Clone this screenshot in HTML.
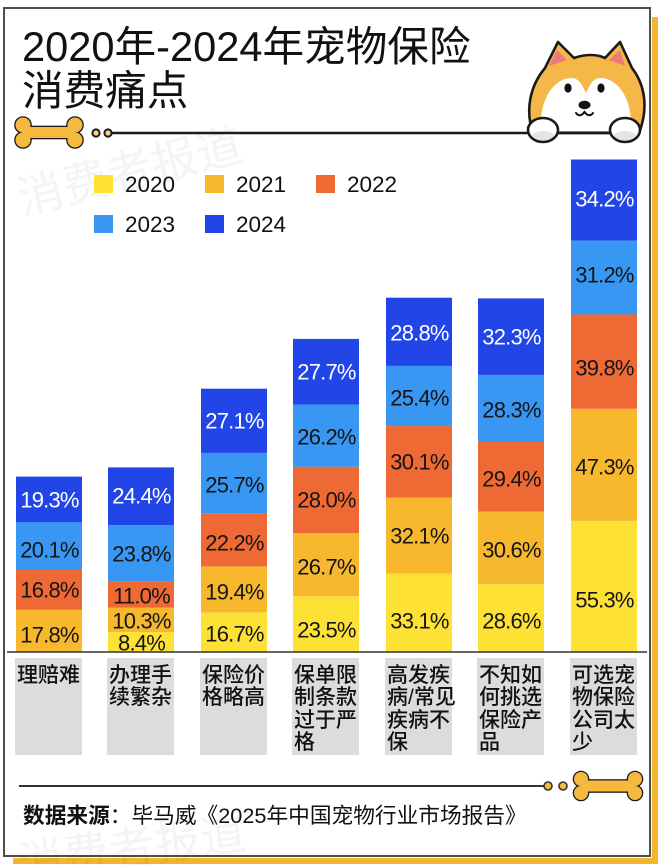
<!DOCTYPE html>
<html>
<head>
<meta charset="utf-8">
<style>
html,body{margin:0;padding:0;}
body{width:660px;height:865px;position:relative;background:#fff;overflow:hidden;font-family:"Liberation Sans","Noto Sans CJK SC",sans-serif;}
.shadow{position:absolute;left:13px;top:17px;width:645px;height:847px;background:#f2b52f;}
.card{position:absolute;left:3px;top:7px;width:644px;height:846px;border:2px solid #4d4d4d;background:#fff;outline:1.5px solid #fff;}
svg{position:absolute;left:0;top:0;}
.title{position:absolute;left:22px;top:25px;font-size:41.6px;line-height:44px;color:#111;font-family:"Liberation Sans","Noto Sans CJK SC",sans-serif;white-space:nowrap;}
.cat{position:absolute;top:658px;width:65px;height:97px;background:#dcdcdc;padding-left:2px;box-sizing:content-box;}
.cat div{font-size:21px;line-height:22.5px;color:#111;padding-top:6.5px;font-weight:500;font-family:"Liberation Sans","Noto Sans CJK SC",sans-serif;white-space:nowrap;}
.foot{position:absolute;left:23px;top:804px;font-size:21.7px;line-height:24px;color:#111;white-space:nowrap;font-family:"Liberation Sans","Noto Sans CJK SC",sans-serif;}
.foot b{font-weight:bold;}
</style>
</head>
<body>
<div class="shadow"></div>
<div class="card"></div>

<svg width="660" height="865" viewBox="0 0 660 865" xmlns="http://www.w3.org/2000/svg">
  <!-- watermarks -->
  <g font-family="Noto Sans CJK SC, sans-serif" fill="#000" opacity="0.045">
    <text x="22" y="215" font-size="46" transform="rotate(-14 22 215)">消费者报道</text>
    <text x="20" y="880" font-size="46" transform="rotate(-8 20 880)">消费者报道</text>
  </g>

  <!-- top bone -->
  <g>
    <g fill="#f6b940" stroke="#1a1a1a" stroke-width="2.6">
      <circle cx="23" cy="125" r="7.5"/><circle cx="23" cy="140" r="7.5"/>
      <circle cx="75" cy="125" r="7.5"/><circle cx="75" cy="140" r="7.5"/>
      <rect x="23" y="127" width="52" height="11"/>
    </g>
    <g fill="#f6b940">
      <circle cx="23" cy="125" r="7.5"/><circle cx="23" cy="140" r="7.5"/>
      <circle cx="75" cy="125" r="7.5"/><circle cx="75" cy="140" r="7.5"/>
      <rect x="23" y="127" width="52" height="11"/>
    </g>
  </g>
  <circle cx="96" cy="133" r="3.6" fill="#f5d38a" stroke="#1a1a1a" stroke-width="2"/>
  <circle cx="108" cy="133" r="3.6" fill="#f5d38a" stroke="#1a1a1a" stroke-width="2"/>

  <!-- dog head -->
  <path d="M533 133 C525 110 530 86 545 68 L558 42 L574 58 C585 54 597 54 605 58 L620 42 L632 68 C646 86 648 110 639 133 Z" fill="#f5b748" stroke="#1a1a1a" stroke-width="2.6" stroke-linejoin="round"/>
  <path d="M549 66 L557 50 L567 60 Z" fill="#ec7a78"/>
  <path d="M609 60 L620 50 L625 66 Z" fill="#ec7a78"/>
  <path d="M541 131 C539 100 553 79 571 78 C580 78 583 87 586 93 C589 87 592 78 601 78 C619 79 633 100 631 131 Z" fill="#fff"/>
  <ellipse cx="568" cy="88" rx="3.6" ry="4.6" fill="#111"/>
  <ellipse cx="601" cy="88" rx="3.6" ry="4.6" fill="#111"/>
  <ellipse cx="584.5" cy="105" rx="6" ry="4.2" fill="#111"/>
  <path d="M576 113 Q580 118 584.5 112 Q589 118 593 113" fill="none" stroke="#111" stroke-width="2" stroke-linecap="round"/>

  <!-- top line -->
  <line x1="112" y1="133" x2="640" y2="133" stroke="#1a1a1a" stroke-width="2.6"/>

  <!-- paws -->
  <ellipse cx="543" cy="130" rx="15" ry="12" fill="#fff"/>
  <ellipse cx="543" cy="136" rx="11" ry="5" fill="#e4e4e4"/>
  <ellipse cx="543" cy="130" rx="15" ry="12" fill="none" stroke="#1a1a1a" stroke-width="2.6"/>
  <ellipse cx="625" cy="130" rx="15" ry="12" fill="#fff"/>
  <ellipse cx="625" cy="136" rx="11" ry="5" fill="#e4e4e4"/>
  <ellipse cx="625" cy="130" rx="15" ry="12" fill="none" stroke="#1a1a1a" stroke-width="2.6"/>

  <!-- legend -->
  <g font-family="Liberation Sans, sans-serif" font-size="22.5" fill="#111">
    <rect x="94" y="175" width="19" height="18" fill="#fde235"/>
    <text x="125" y="192">2020</text>
    <rect x="205" y="175" width="19" height="18" fill="#f7b82d"/>
    <text x="236" y="192">2021</text>
    <rect x="316" y="175" width="19" height="18" fill="#ef6935"/>
    <text x="347" y="192">2022</text>
    <rect x="94" y="215" width="19" height="18" fill="#3797f3"/>
    <text x="125" y="232">2023</text>
    <rect x="205" y="215" width="19" height="18" fill="#2145e6"/>
    <text x="236" y="232">2024</text>
  </g>

  <!-- bars -->
  <g>
    <rect x="16" y="609.8" width="66" height="42.2" fill="#f7b82d"/>
    <rect x="16" y="570.0" width="66" height="39.8" fill="#ef6935"/>
    <rect x="16" y="522.35" width="66" height="47.65" fill="#3797f3"/>
    <rect x="16" y="476.6" width="66" height="45.75" fill="#2145e6"/>

    <rect x="108" y="632.1" width="66" height="19.9" fill="#fde235"/>
    <rect x="108" y="607.7" width="66" height="24.4" fill="#f7b82d"/>
    <rect x="108" y="581.6" width="66" height="26.1" fill="#ef6935"/>
    <rect x="108" y="525.2" width="66" height="56.4" fill="#3797f3"/>
    <rect x="108" y="467.4" width="66" height="57.8" fill="#2145e6"/>

    <rect x="201" y="612.4" width="66" height="39.6" fill="#fde235"/>
    <rect x="201" y="566.4" width="66" height="46.0" fill="#f7b82d"/>
    <rect x="201" y="513.8" width="66" height="52.6" fill="#ef6935"/>
    <rect x="201" y="452.9" width="66" height="60.9" fill="#3797f3"/>
    <rect x="201" y="388.7" width="66" height="64.2" fill="#2145e6"/>

    <rect x="293" y="596.3" width="66" height="55.7" fill="#fde235"/>
    <rect x="293" y="533.0" width="66" height="63.3" fill="#f7b82d"/>
    <rect x="293" y="466.7" width="66" height="66.3" fill="#ef6935"/>
    <rect x="293" y="404.6" width="66" height="62.1" fill="#3797f3"/>
    <rect x="293" y="338.9" width="66" height="65.7" fill="#2145e6"/>

    <rect x="386" y="573.55" width="66" height="78.45" fill="#fde235"/>
    <rect x="386" y="497.5" width="66" height="76.05" fill="#f7b82d"/>
    <rect x="386" y="426.1" width="66" height="71.4" fill="#ef6935"/>
    <rect x="386" y="365.9" width="66" height="60.2" fill="#3797f3"/>
    <rect x="386" y="297.7" width="66" height="68.2" fill="#2145e6"/>

    <rect x="478" y="584.2" width="66" height="67.8" fill="#fde235"/>
    <rect x="478" y="511.7" width="66" height="72.5" fill="#f7b82d"/>
    <rect x="478" y="442.0" width="66" height="69.7" fill="#ef6935"/>
    <rect x="478" y="374.9" width="66" height="67.1" fill="#3797f3"/>
    <rect x="478" y="298.4" width="66" height="76.5" fill="#2145e6"/>

    <rect x="571" y="520.9" width="66" height="131.1" fill="#fde235"/>
    <rect x="571" y="408.8" width="66" height="112.1" fill="#f7b82d"/>
    <rect x="571" y="314.5" width="66" height="94.3" fill="#ef6935"/>
    <rect x="571" y="240.6" width="66" height="73.9" fill="#3797f3"/>
    <rect x="571" y="159.5" width="66" height="81.1" fill="#2145e6"/>
  </g>

  <!-- bar labels -->
  <g font-family="Liberation Sans, sans-serif" font-size="22" letter-spacing="-0.8" text-anchor="middle" dominant-baseline="central" fill="#151515">
    <text x="49.5" y="500" fill="#fff">19.3%</text>
    <text x="49.5" y="550">20.1%</text>
    <text x="49.5" y="590">16.8%</text>
    <text x="49.5" y="635">17.8%</text>

    <text x="141.5" y="496" fill="#fff">24.4%</text>
    <text x="141.5" y="554">23.8%</text>
    <text x="141.5" y="596">11.0%</text>
    <text x="141.5" y="621">10.3%</text>
    <text x="141.5" y="643">8.4%</text>

    <text x="234.5" y="421" fill="#fff">27.1%</text>
    <text x="234.5" y="485">25.7%</text>
    <text x="234.5" y="543">22.2%</text>
    <text x="234.5" y="592">19.4%</text>
    <text x="234.5" y="634">16.7%</text>

    <text x="326.5" y="372" fill="#fff">27.7%</text>
    <text x="326.5" y="437">26.2%</text>
    <text x="326.5" y="500">28.0%</text>
    <text x="326.5" y="567">26.7%</text>
    <text x="326.5" y="630">23.5%</text>

    <text x="419.5" y="333" fill="#fff">28.8%</text>
    <text x="419.5" y="398">25.4%</text>
    <text x="419.5" y="462">30.1%</text>
    <text x="419.5" y="536">32.1%</text>
    <text x="419.5" y="621">33.1%</text>

    <text x="511.5" y="337" fill="#fff">32.3%</text>
    <text x="511.5" y="410">28.3%</text>
    <text x="511.5" y="479">29.4%</text>
    <text x="511.5" y="550">30.6%</text>
    <text x="511.5" y="621">28.6%</text>

    <text x="604.5" y="199" fill="#fff">34.2%</text>
    <text x="604.5" y="275">31.2%</text>
    <text x="604.5" y="368">39.8%</text>
    <text x="604.5" y="467">47.3%</text>
    <text x="604.5" y="600">55.3%</text>
  </g>

  <!-- baseline -->
  <line x1="7" y1="652" x2="647" y2="652" stroke="#333" stroke-width="1.5"/>

  <!-- bottom line + bone -->
  <line x1="19" y1="786" x2="544" y2="786" stroke="#333" stroke-width="2"/>
  <circle cx="548" cy="786" r="4" fill="#f6b940" stroke="#333" stroke-width="1.6"/>
  <circle cx="563" cy="786" r="4" fill="#f6b940" stroke="#333" stroke-width="1.6"/>
  <g>
    <g fill="#f6b940" stroke="#1a1a1a" stroke-width="2.6">
      <circle cx="581" cy="779" r="7"/><circle cx="581" cy="793" r="7"/>
      <circle cx="635" cy="779" r="7"/><circle cx="635" cy="793" r="7"/>
      <rect x="581" y="780.5" width="54" height="11"/>
    </g>
    <g fill="#f6b940">
      <circle cx="581" cy="779" r="7"/><circle cx="581" cy="793" r="7"/>
      <circle cx="635" cy="779" r="7"/><circle cx="635" cy="793" r="7"/>
      <rect x="581" y="780.5" width="54" height="11"/>
    </g>
  </g>
</svg>

<div class="title">2020年-2024年宠物保险<br>消费痛点</div>

<div class="cat" style="left:15px;"><div>理赔难</div></div>
<div class="cat" style="left:107px;"><div>办理手<br>续繁杂</div></div>
<div class="cat" style="left:200px;"><div>保险价<br>格略高</div></div>
<div class="cat" style="left:292px;"><div>保单限<br>制条款<br>过于严<br>格</div></div>
<div class="cat" style="left:385px;"><div>高发疾<br>病/常见<br>疾病不<br>保</div></div>
<div class="cat" style="left:477px;"><div>不知如<br>何挑选<br>保险产<br>品</div></div>
<div class="cat" style="left:570px;"><div>可选宠<br>物保险<br>公司太<br>少</div></div>

<div class="foot"><b>数据来源</b>：毕马威《2025年中国宠物行业市场报告》</div>
</body>
</html>
